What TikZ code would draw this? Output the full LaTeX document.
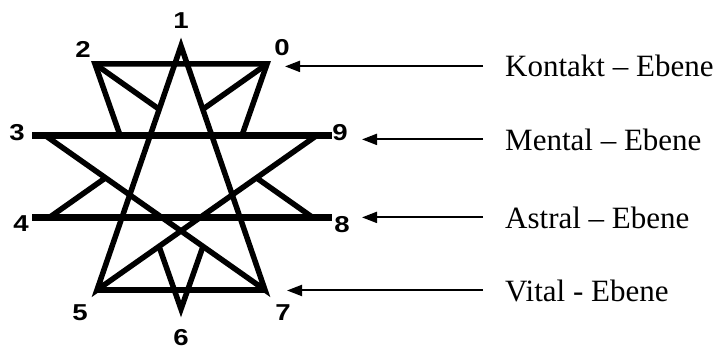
\documentclass[tikz,border=0pt]{standalone}
\usepackage{fontspec}
\setmainfont{Liberation Serif}
\newfontfamily\digitfont{Liberation Sans}
\usetikzlibrary{arrows.meta}

\newcommand{\widedigit}[1]{\scalebox{1.2}[1]{#1}}

\begin{document}
\begin{tikzpicture}[x=1pt,y=-1pt,
		star/.style={line width=5.5pt, line join=miter},
		level/.style={line width=7pt},
		pointer/.style={line width=2pt, -{Triangle[length=15pt,width=11pt]}},
		num/.style={font=\fontsize{23}{23}\selectfont\digitfont\bfseries, inner sep=0pt},
		plane/.style={font=\fontsize{31}{31}\selectfont, anchor=base west, inner sep=0pt}
		]
		\useasboundingbox (0,0) rectangle (720,350);
		
		% points of the star
		\coordinate (p0) at (267,64);
		\coordinate (p1) at (181,46);
		\coordinate (p2) at (95,64);
		\coordinate (p3) at (46,136);
		\coordinate (p4) at (50,217);
		\coordinate (p5) at (97,290);
		\coordinate (p6) at (181,309);
		\coordinate (p7) at (265,290);
		\coordinate (p8) at (312,217);
		\coordinate (p9) at (316,136);
		
		% ends of the level lines
		\coordinate (l3) at (32,136);
		\coordinate (r9) at (332,136);
		\coordinate (l4) at (32,217);
		\coordinate (r8) at (332,217);
		
		\draw[level] (l3) -- (r9);
		\draw[level] (l4) -- (r8);
		
		% first pentagram, drawn in full
		\draw[star] (p1) -- (p5) -- (p9) -- (p3) -- (p7) -- cycle;
		
		% second pentagram, only the outer pieces
		\coordinate (a28) at (intersection of p2--p8 and p1--p5);
		\coordinate (a26) at (intersection of p2--p6 and p3--p9);
		\coordinate (a04) at (intersection of p0--p4 and p1--p7);
		\coordinate (a06) at (intersection of p0--p6 and p3--p9);
		\coordinate (a40) at (intersection of p4--p0 and p3--p7);
		\coordinate (a82) at (intersection of p8--p2 and p9--p5);
		\coordinate (a62) at (intersection of p6--p2 and p5--p9);
		\coordinate (a60) at (intersection of p6--p0 and p3--p7);
		
		\draw[star] (a26) -- (p2) -- (p0) -- (a06);
		\draw[star] (p2) -- (a28);
		\draw[star] (p0) -- (a04);
		\draw[star] (p4) -- (a40);
		\draw[star] (p8) -- (a82);
		\draw[star] (a62) -- (p6) -- (a60);
		\draw[star] (p5) -- (p7);
		
		\node[num] (n0) at (282,48) {\widedigit{0}};
		\node[num] (n1) at (181,21) {\widedigit{1}};
		\node[num] (n2) at (83,49) {\widedigit{2}};
		\node[num] (n3) at (17,133) {\widedigit{3}};
		\node[num] (n4) at (21,224) {\widedigit{4}};
		\node[num] (n5) at (80,313) {\widedigit{5}};
		\node[num] (n6) at (181,338) {\widedigit{6}};
		\node[num] (n7) at (283,313) {\widedigit{7}};
		\node[num] (n8) at (342,225) {\widedigit{8}};
		\node[num] (n9) at (340,133) {\widedigit{9}};
		
		\node[plane] (kontakt) at (505,77) {Kontakt – Ebene};
		\node[plane] (mental) at (505,150) {Mental – Ebene};
		\node[plane] (astral) at (505,228) {Astral – Ebene};
		\node[plane] (vital) at (505,301) {Vital - Ebene};
		
		\coordinate (tip0) at (285,66);
		\coordinate (tip9) at (362,136);
		\coordinate (tip8) at (362,217);
		\coordinate (tip7) at (287,289);
		
		\draw[pointer] ([xshift=-22pt]kontakt.west) -- (kontakt.west -| tip0);
		\draw[pointer] ([xshift=-22pt]mental.west) -- (mental.west -| tip9);
		\draw[pointer] ([xshift=-22pt]astral.west) -- (astral.west -| tip8);
		\draw[pointer] ([xshift=-22pt]vital.west) -- (vital.west -| tip7);
		
	\end{tikzpicture}
\end{document}
